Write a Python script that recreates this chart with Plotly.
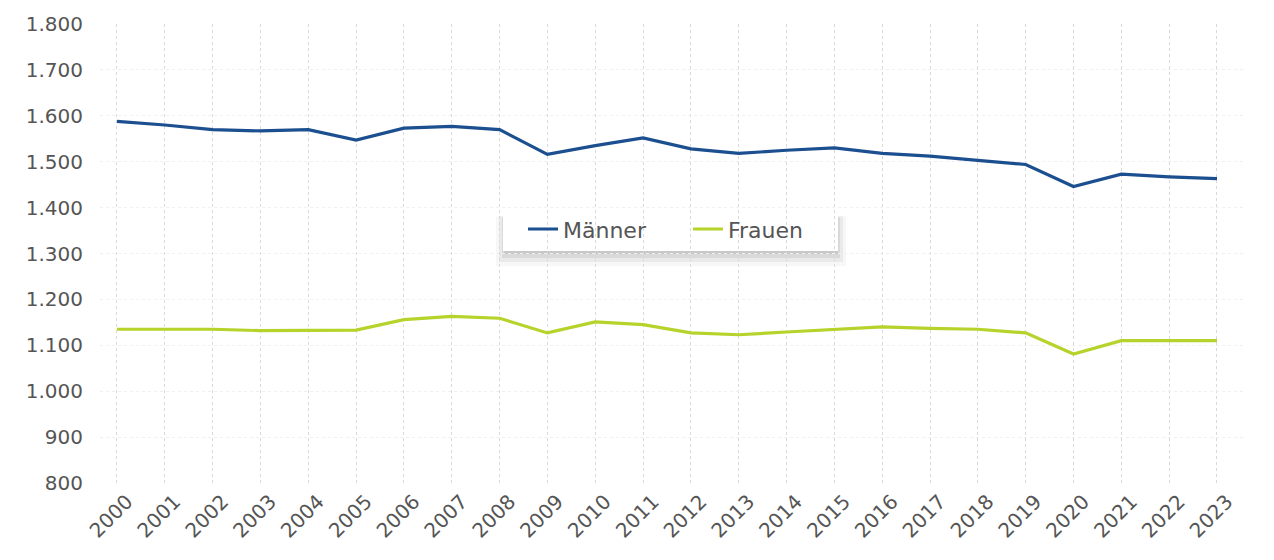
import plotly.graph_objects as go

# Jahre und Werte je Geschlecht
jahre = list(range(2000, 2024))
maenner = [1588, 1580, 1570, 1567, 1570, 1547, 1573, 1577, 1570, 1516, 1535, 1552,
           1528, 1518, 1525, 1530, 1518, 1512, 1503, 1494, 1446, 1473, 1467, 1463]
frauen = [1135, 1135, 1135, 1132, 1132, 1133, 1156, 1163, 1159, 1127, 1151, 1145,
          1127, 1123, 1129, 1135, 1140, 1137, 1135, 1127, 1081, 1110, 1110, 1110]
y_ticks = [800, 900, 1000, 1100, 1200, 1300, 1400, 1500, 1600, 1700, 1800]

BLAU = "#1b4f8f"
GRUEN = "#b5d32a"
TEXT = "#555555"
FONT = "DejaVu Sans, Verdana, sans-serif"

W, H = 1274, 560
ML, MR, MT, MB = 100, 30, 20, 77
PW, PH = W - ML - MR, H - MT - MB

fig = go.Figure()
fig.add_trace(go.Scatter(x=jahre, y=maenner, name="Männer", mode="lines",
                         line=dict(color=BLAU, width=3.2)))
fig.add_trace(go.Scatter(x=jahre, y=frauen, name="Frauen", mode="lines",
                         line=dict(color=GRUEN, width=3.2)))


def px_rect(x0, y0, x1, y1, color):
    """Rechteck in Pixelkoordinaten der Seite, umgerechnet auf paper-Koordinaten."""
    return dict(type="rect", xref="paper", yref="paper", layer="between",
                x0=(x0 - ML) / PW, x1=(x1 - ML) / PW,
                y0=(H - MB - y1) / PH, y1=(H - MB - y0) / PH,
                fillcolor=color, line=dict(width=0))


# Legendenkasten mit weichem Schatten
shapes = [
    px_rect(496, 214, 846, 264, "rgba(0,0,0,0.03)"),
    px_rect(499, 214, 843, 260, "rgba(0,0,0,0.05)"),
    px_rect(502, 215, 840, 256, "rgba(0,0,0,0.07)"),
    px_rect(504, 216, 838, 252, "rgba(0,0,0,0.08)"),
    px_rect(503, 211, 838, 249, "white"),
]

fig.update_layout(
    width=W, height=H,
    margin=dict(l=ML, r=MR, t=MT, b=MB),
    paper_bgcolor="white", plot_bgcolor="white",
    separators=",.",
    font=dict(family=FONT, size=20, color=TEXT),
    showlegend=True,
    legend=dict(orientation="h", x=(688 - ML) / PW, y=(H - MB - 227) / PH,
                xanchor="center", yanchor="middle",
                bgcolor="rgba(0,0,0,0)", borderwidth=0,
                font=dict(size=22, color=TEXT),
                entrywidth=120, entrywidthmode="pixels"),
    shapes=shapes,
    xaxis=dict(range=[1999.645, 2023.565], tickmode="array", tickvals=jahre,
               ticktext=[str(j) for j in jahre], tickangle=-45,
               showgrid=True, gridcolor="#d9d9d9", griddash="dot", gridwidth=1,
               zeroline=False, showline=False, ticks="",
               ticklabelshift=10, ticklabelstandoff=2,
               tickfont=dict(size=20, color=TEXT)),
    yaxis=dict(range=[800, 1800], tickmode="array", tickvals=y_ticks, tickformat=",d",
               showgrid=True, gridcolor="#f0f0f0", griddash="dot", gridwidth=1,
               zeroline=False, showline=False, ticks="", ticklabelstandoff=16,
               tickfont=dict(size=20, color=TEXT)),
)

fig.write_html("out.html")
